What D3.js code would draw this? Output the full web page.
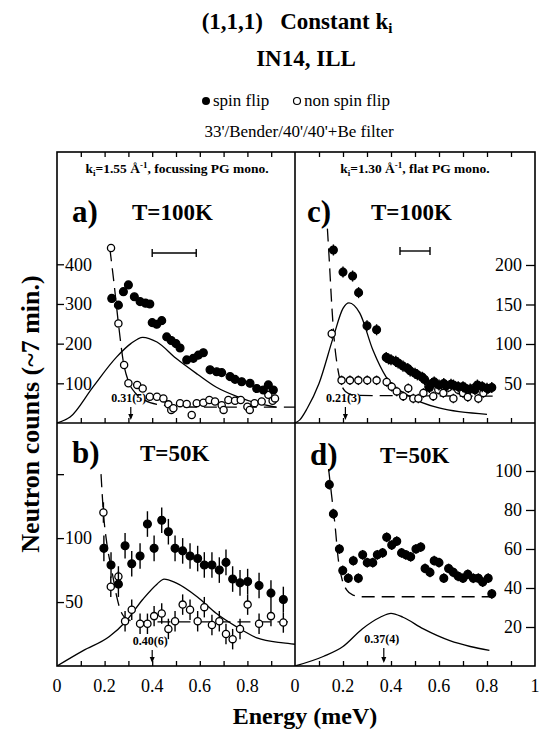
<!DOCTYPE html>
<html><head><meta charset="utf-8">
<script src="https://cdn.jsdelivr.net/npm/d3@7"></script>
<style>
body{margin:0;background:#fff}
svg{display:block}
text{font-family:"Liberation Serif","Times New Roman",serif;fill:#000}
</style>
</head><body>
<svg id="chart" width="546" height="733"></svg>
<script>
// ---------------- data ----------------
const xMinorTicks = [0.1,0.2,0.3,0.4,0.5,0.6,0.7,0.8,0.9];
const xLabelsLeft = [0,0.2,0.4,0.6,0.8];
const xLabelsRight = [0,0.2,0.4,0.6,0.8,1];

// panel a) T=100K, ki=1.55
const aTicks = [100,200,300,400];
const aSfE = [0.23,0.258,0.279,0.30,0.325,0.349,0.372,0.39,0.40,0.419,0.44,0.461,0.48,0.50,0.517,0.545,0.573,0.594,0.615,0.643,0.671,0.692,0.727,0.748,0.776,0.811,0.839,0.867,0.888,0.909];
const aSfV = [314,297,331,348,318,306,302,300,253,249,258,217,208,200,189,159,163,171,177,134,129,127,117,110,104,100,87,83,96,83];
const aSfErr = 10;
const aNsfE = [0.227,0.258,0.282,0.30,0.337,0.36,0.39,0.42,0.447,0.468,0.48,0.489,0.517,0.545,0.566,0.587,0.615,0.64,0.664,0.692,0.70,0.72,0.748,0.772,0.80,0.81,0.83,0.86,0.888,0.906,0.916];
const aNsfV = [441,251,146,100,96,87,66,66,62,47,33,37,50,48,20,50,51,58,54,45,33,58,56,58,41,33,50,54,71,56,62];
const aNsfErr = 8;
const aFitE = [0,0.055,0.15,0.25,0.31,0.36,0.42,0.50,0.59,0.67,0.76,0.84,0.92];
const aFitV = [0,15,90,166,200,216,204,163,123,90,66,50,40];
const aBgE = [0.222,0.24,0.258,0.28,0.30,0.33,0.37,0.42,0.50,0.60,1.0];
const aBgV = [440,350,251,150,105,75,57,47,42,40,40];

// panel b) T=50K, ki=1.55
const bTicks = [50,100,150];
const bTickLabels = ["50","100",""];
const bSfE = [0.197,0.227,0.258,0.286,0.314,0.349,0.38,0.408,0.44,0.468,0.496,0.528,0.559,0.591,0.619,0.651,0.682,0.71,0.738,0.769,0.801,0.849,0.899,0.951];
const bSfV = [92,79,64,94,80,86,111,92,114,105,92,90,86,84,79,79,75,81,68,65,66,63,57,52];
const bSfErr = 10;
const bNsfE = [0.195,0.226,0.258,0.286,0.314,0.349,0.38,0.408,0.44,0.468,0.496,0.528,0.559,0.591,0.619,0.651,0.682,0.71,0.738,0.769,0.801,0.849,0.899,0.951];
const bNsfV = [120,62,70,35,44,33,33,39,41,29,35,48,44,35,46,32,35,25,21,29,48,33,39,34];
const bNsfErr = 8;
const bFitE = [0,0.11,0.22,0.29,0.36,0.42,0.45,0.50,0.59,0.67,0.76,0.84,0.95,1.0];
const bFitV = [0,12,23,35,52,64,68,65,54,41,30,22,18,17];
const bBgE = [0.185,0.195,0.21,0.23,0.25,0.27,0.30,0.35,0.97];
const bBgV = [150,120,95,75,55,42,36,34.5,34.5];

// panel c) T=100K, ki=1.30
const cTicks = [50,100,150,200];
const cSfE = [0.16,0.20,0.24,0.265,0.30,0.34,0.38,0.39,0.40,0.42,0.43,0.45,0.47,0.48,0.50,0.51,0.53,0.54,0.56,0.57,0.58,0.60,0.62,0.63,0.65,0.66,0.68,0.70,0.71,0.73,0.75,0.76,0.78,0.80,0.82];
const cSfV = [219,191,186,165,123,118,83,81,80,78,76,72,69,66,63,61,58,55,45,50,52,48,50,47,49,48,46,46,44,43,42,48,46,44,45];
const cSfErr = 7;
const cNsfE = [0.153,0.194,0.229,0.264,0.301,0.34,0.382,0.403,0.424,0.451,0.472,0.493,0.514,0.535,0.556,0.576,0.597,0.618,0.639,0.66,0.68,0.70,0.72,0.743,0.764,0.785,0.805];
const cNsfV = [113,54,54,54,54,54,52,46,40,34,44,31,31,38,46,34,42,38,45,31,42,38,33,44,31,38,43];
const cNsfErr = 6;
const cFitE = [0,0.02,0.05,0.10,0.16,0.20,0.225,0.27,0.325,0.38,0.47,0.60,0.80];
const cFitV = [0,4,18,50,109,145,152,139,92,58,35,19,11];
const cBgE = [0.135,0.143,0.153,0.165,0.175,0.19,0.21,0.25,0.83];
const cBgV = [246,205,150,100,75,52,40,35,34];

// panel d) T=50K, ki=1.30
const dTicks = [20,40,60,80,100];
const dSfE = [0.143,0.16,0.185,0.199,0.222,0.243,0.264,0.282,0.301,0.324,0.343,0.365,0.382,0.403,0.424,0.444,0.462,0.482,0.504,0.524,0.542,0.5625,0.58,0.60,0.62,0.64,0.66,0.68,0.70,0.72,0.743,0.764,0.782,0.805,0.82];
const dSfV = [93,78,60,49,45,54,45,57,53,53,57,58,66,62,64,58,57,56,60,61,50,48,54,53,45,50,48,46,45,47,45,45,43,45,37];
const dSfErr = 2.5;
const dFitE = [0,0.12,0.20,0.28,0.355,0.40,0.45,0.535,0.645,0.73,0.81];
const dFitV = [0,5,10,19,25,27,25,19,13,10,8];
const dBgE = [0.14,0.153,0.167,0.18,0.195,0.215,0.24,0.28,0.82];
const dBgV = [101,87,72,55,45,39,36.5,35.5,35.5];

// peak positions
const peakA = 0.31, peakB = 0.40, peakC = 0.21, peakD = 0.37;
const peakLabels = ["0.31(5)","0.40(6)","0.21(3)","0.37(4)"];
// resolution bars
const resA = [0.40,0.585];
const resC = [0.4375,0.5625];

// ---------------- layout ----------------
const svg = d3.select("#chart");
const L=57, M=295, R=535, T=152, MY=423, B=666;
const zip = (e,v)=>e.map((d,i)=>[d,v[i]]);

function panel(o){
  const x = d3.scaleLinear().domain([0,1]).range([o.x0,o.x1]);
  const y = d3.scaleLinear().domain(o.ydom).range([o.y1,o.y0]);
  const g = svg.append("g");
  const id = "clip"+o.name;
  svg.append("clipPath").attr("id",id).append("rect")
     .attr("x",o.x0).attr("y",o.y0).attr("width",o.x1-o.x0).attr("height",o.y1-o.y0);
  const ab = g.append("g").attr("transform",`translate(0,${o.y1})`)
     .call(d3.axisBottom(x).tickValues(xMinorTicks).tickSize(-5).tickFormat(""));
  ab.select(".domain").remove();
  if(o.topTicks){
    const at = g.append("g").attr("transform",`translate(0,${o.y0})`)
      .call(d3.axisTop(x).tickValues(xMinorTicks).tickSize(-5).tickFormat(""));
    at.select(".domain").remove();
  }
  const labs = o.ylabels || o.yticks.map(String);
  if(o.side==="left"){
    const ay = g.append("g").attr("transform",`translate(${o.x0},0)`)
      .call(d3.axisLeft(y).tickValues(o.yticks).tickSize(-7).tickFormat((d,i)=>labs[i]));
    ay.select(".domain").remove();
    ay.selectAll("text").attr("x",8).attr("text-anchor","start")
      .style("font-size","18px").style("font-family","'Liberation Serif',serif");
  } else {
    const ay = g.append("g").attr("transform",`translate(${o.x1},0)`)
      .call(d3.axisRight(y).tickValues(o.yticks).tickSize(-9).tickFormat((d,i)=>labs[i]));
    ay.select(".domain").remove();
    ay.selectAll("text").attr("x",-13).attr("text-anchor","end")
      .style("font-size","18px").style("font-family","'Liberation Serif',serif");
  }
  g.selectAll(".tick line").attr("stroke","#000").attr("stroke-width",1.3);

  const cg = g.append("g").attr("clip-path",`url(#${id})`);
  const line = d3.line().x(d=>x(d[0])).y(d=>y(d[1])).curve(d3.curveMonotoneX);
  cg.append("path").datum(zip(o.fitE,o.fitV)).attr("d",line)
    .attr("fill","none").attr("stroke","#000").attr("stroke-width",1.3);
  cg.append("path").datum(zip(o.bgE,o.bgV)).attr("d",line)
    .attr("fill","none").attr("stroke","#000").attr("stroke-width",1.3)
    .attr("stroke-dasharray","13,7");

  function pts(E,V,err,filled){
    const data = zip(E,V);
    cg.append("g").selectAll("line").data(data).join("line")
      .attr("x1",d=>x(d[0])).attr("x2",d=>x(d[0]))
      .attr("y1",d=>y(d[1]-err)).attr("y2",d=>y(d[1]+err))
      .attr("stroke","#000").attr("stroke-width",1.4);
    cg.append("g").selectAll("circle").data(data).join("circle")
      .attr("cx",d=>x(d[0])).attr("cy",d=>y(d[1]))
      .attr("r",filled?3.9:3.6)
      .attr("fill",filled?"#000":"#fff").attr("stroke","#000").attr("stroke-width",1.3);
  }
  if(o.nsfE) pts(o.nsfE,o.nsfV,o.nsfErr,false);
  pts(o.sfE,o.sfV,o.sfErr,true);

  const px = x(o.peak);
  g.append("text").attr("x",px-2).attr("y",o.y1-o.peakDy).attr("text-anchor","middle")
    .style("font-size","12px").style("font-weight","bold").text(o.peakLabel);
  g.append("line").attr("x1",px).attr("x2",px).attr("y1",o.y1-o.peakDy+5).attr("y2",o.y1-5)
    .attr("stroke","#000").attr("stroke-width",1.2);
  g.append("path").attr("d",`M${px-2.5},${o.y1-9}L${px+2.5},${o.y1-9}L${px},${o.y1-3}Z`).attr("fill","#000");

  if(o.res){
    const ry = o.resY;
    g.append("line").attr("x1",x(o.res[0])).attr("x2",x(o.res[1])).attr("y1",ry).attr("y2",ry)
      .attr("stroke","#000").attr("stroke-width",1.4);
    o.res.forEach(r=>g.append("line").attr("x1",x(r)).attr("x2",x(r)).attr("y1",ry-4).attr("y2",ry+4)
      .attr("stroke","#000").attr("stroke-width",1.4));
  }
  g.append("text").attr("x",o.x0+o.letterDx).attr("y",o.y0+o.letterDy).style("font-size","31px").style("font-weight","bold").text(o.letter);
  g.append("text").attr("x",o.x0+o.tempDx).attr("y",o.y0+o.letterDy-2).style("font-size","23px").style("font-weight","bold").text(o.temp);
  return x;
}

const xa = panel({name:"a",x0:L,x1:M,y0:T,y1:MY,ydom:[0,683],yticks:aTicks,side:"left",topTicks:true,
  sfE:aSfE,sfV:aSfV,sfErr:aSfErr,nsfE:aNsfE,nsfV:aNsfV,nsfErr:aNsfErr,fitE:aFitE,fitV:aFitV,bgE:aBgE,bgV:aBgV,
  peak:peakA,peakLabel:peakLabels[0],peakDy:21,res:resA,resY:253,letter:"a)",temp:"T=100K",letterDx:15,letterDy:70,tempDx:75});
const xb = panel({name:"b",x0:L,x1:M,y0:MY,y1:B,ydom:[0,190],yticks:bTicks,ylabels:bTickLabels,side:"left",topTicks:false,
  sfE:bSfE,sfV:bSfV,sfErr:bSfErr,nsfE:bNsfE,nsfV:bNsfV,nsfErr:bNsfErr,fitE:bFitE,fitV:bFitV,bgE:bBgE,bgV:bBgV,
  peak:peakB,peakLabel:peakLabels[1],peakDy:21,letter:"b)",temp:"T=50K",letterDx:15,letterDy:40,tempDx:83});
const xc = panel({name:"c",x0:M,x1:R,y0:T,y1:MY,ydom:[0,343],yticks:cTicks,side:"right",topTicks:true,
  sfE:cSfE,sfV:cSfV,sfErr:cSfErr,nsfE:cNsfE,nsfV:cNsfV,nsfErr:cNsfErr,fitE:cFitE,fitV:cFitV,bgE:cBgE,bgV:cBgV,
  peak:peakC,peakLabel:peakLabels[2],peakDy:21,res:resC,resY:251,letter:"c)",temp:"T=100K",letterDx:12,letterDy:70,tempDx:76});
const xd = panel({name:"d",x0:M,x1:R,y0:MY,y1:B,ydom:[0,124.6],yticks:dTicks,side:"right",topTicks:false,
  sfE:dSfE,sfV:dSfV,sfErr:dSfErr,fitE:dFitE,fitV:dFitV,bgE:dBgE,bgV:dBgV,
  peak:peakD,peakLabel:peakLabels[3],peakDy:23,letter:"d)",temp:"T=50K",letterDx:15,letterDy:42,tempDx:85});

// frame
svg.append("rect").attr("x",L).attr("y",T).attr("width",R-L).attr("height",B-T)
  .attr("fill","none").attr("stroke","#000").attr("stroke-width",1.6);
svg.append("line").attr("x1",M).attr("x2",M).attr("y1",T).attr("y2",B).attr("stroke","#000").attr("stroke-width",1.6);
svg.append("line").attr("x1",L).attr("x2",R).attr("y1",MY).attr("y2",MY).attr("stroke","#000").attr("stroke-width",1.6);

// bottom tick labels
svg.append("g").selectAll("text").data(xLabelsLeft).join("text")
  .attr("x",d=>xb(d)).attr("y",692).attr("text-anchor","middle").style("font-size","18px").text(d=>String(d));
svg.append("g").selectAll("text").data(xLabelsRight).join("text")
  .attr("x",d=>xd(d)).attr("y",692).attr("text-anchor","middle").style("font-size","18px").text(d=>String(d));

// panel headers
function kiText(x,y,val,rest){
  const t = svg.append("text").attr("x",x).attr("y",y).attr("text-anchor","middle")
    .style("font-size","13.5px").style("font-weight","bold");
  t.append("tspan").text("k");
  t.append("tspan").attr("dy",3).style("font-size","9px").text("i");
  t.append("tspan").attr("dy",-3).text("="+val+" Å");
  t.append("tspan").attr("dy",-5).style("font-size","9px").text("-1");
  t.append("tspan").attr("dy",5).text(rest);
}
kiText(177,173,"1.55",", focussing PG mono.");
kiText(415,173,"1.30",", flat PG mono.");

// titles
const t1 = svg.append("text").attr("x",297).attr("y",29).attr("text-anchor","middle")
  .style("font-size","23px").style("font-weight","bold").style("white-space","pre");
t1.append("tspan").text("(1,1,1)   Constant k");
t1.append("tspan").attr("dy",4).style("font-size","15px").text("i");
svg.append("text").attr("x",306).attr("y",66).attr("text-anchor","middle")
  .style("font-size","23px").style("font-weight","bold").text("IN14, ILL");

// legend
svg.append("circle").attr("cx",206).attr("cy",101).attr("r",4).attr("fill","#000");
svg.append("text").attr("x",213).attr("y",106).style("font-size","17px").text("spin flip");
svg.append("circle").attr("cx",297).attr("cy",101).attr("r",3.5).attr("fill","#fff").attr("stroke","#000").attr("stroke-width",1.2);
svg.append("text").attr("x",304).attr("y",106).style("font-size","17px").text("non spin flip");
svg.append("text").attr("x",299).attr("y",137).attr("text-anchor","middle").style("font-size","17px").text("33'/Bender/40'/40'+Be filter");

// axis titles
svg.append("text").attr("transform","translate(39,414) rotate(-90)").attr("text-anchor","middle")
  .style("font-size","26px").style("font-weight","bold").text("Neutron counts (~7 min.)");
svg.append("text").attr("x",305).attr("y",724).attr("text-anchor","middle")
  .style("font-size","24px").style("font-weight","bold").text("Energy (meV)");
</script>
</body></html>
